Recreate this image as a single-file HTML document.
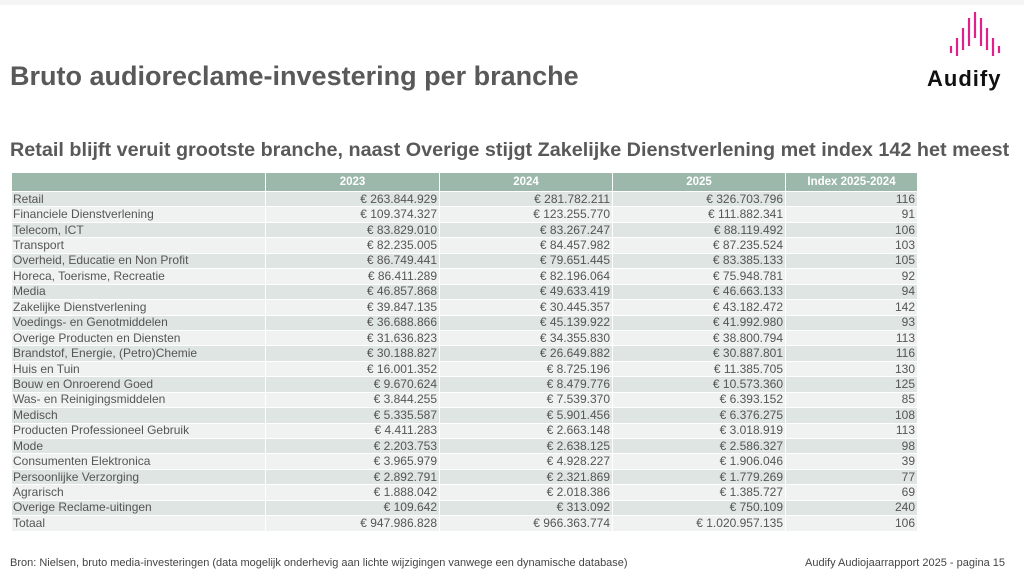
<!DOCTYPE html>
<html><head><meta charset="utf-8"><style>
*{margin:0;padding:0;box-sizing:border-box}
body{width:1024px;height:577px;background:#fff;font-family:"Liberation Sans",Arial,sans-serif;position:relative;overflow:hidden;color:#555}
.t{position:absolute;white-space:nowrap}
table{position:absolute;left:11px;top:172px;border-collapse:collapse;font-size:12px;color:#555}
td,th{border:1.5px solid #fff;padding:0 2px;height:15.45px;line-height:13px}
th{background:#9bb8aa;color:#fff;font-weight:bold;height:19px;text-align:center;font-size:11.5px}
td{text-align:right}
td:first-child{text-align:left;padding-left:1px}
tr:nth-child(even) td{background:#dfe5e2}
tr:nth-child(odd) td{background:#eff2f1}
</style></head><body>
<div style="position:absolute;left:0;top:0;width:1024px;height:5px;background:#f5f5f5"></div>
<div class="t" style="left:10px;top:61px;font-size:27px;font-weight:bold;color:#595959">Bruto audioreclame-investering per branche</div>
<div class="t" style="left:10px;top:139px;font-size:19.8px;font-weight:bold;color:#595959">Retail blijft veruit grootste branche, naast Overige stijgt Zakelijke Dienstverlening met index 142 het meest</div>
<svg style="position:absolute;left:945px;top:8px" width="60" height="52">
<g stroke="#e0218a" stroke-width="2.2">
<line x1="6" y1="38" x2="6" y2="45"/><line x1="12" y1="30" x2="12" y2="48"/><line x1="18" y1="20" x2="18" y2="42"/><line x1="24" y1="10" x2="24" y2="38"/><line x1="30" y1="4" x2="30" y2="30"/><line x1="36" y1="10" x2="36" y2="38"/><line x1="42" y1="20" x2="42" y2="42"/><line x1="48" y1="30" x2="48" y2="48"/><line x1="54" y1="38" x2="54" y2="45"/>
</g></svg>
<div class="t" style="left:927px;top:66px;font-size:22px;font-weight:bold;color:#111;letter-spacing:1px">Audify</div>
<table>
<colgroup><col style="width:254px"><col style="width:174px"><col style="width:173px"><col style="width:173px"><col style="width:132px"></colgroup>
<tr><th></th><th>2023</th><th>2024</th><th>2025</th><th>Index 2025-2024</th></tr>
<tr><td>Retail</td><td>€ 263.844.929</td><td>€ 281.782.211</td><td>€ 326.703.796</td><td>116</td></tr>
<tr><td>Financiele Dienstverlening</td><td>€ 109.374.327</td><td>€ 123.255.770</td><td>€ 111.882.341</td><td>91</td></tr>
<tr><td>Telecom, ICT</td><td>€ 83.829.010</td><td>€ 83.267.247</td><td>€ 88.119.492</td><td>106</td></tr>
<tr><td>Transport</td><td>€ 82.235.005</td><td>€ 84.457.982</td><td>€ 87.235.524</td><td>103</td></tr>
<tr><td>Overheid, Educatie en Non Profit</td><td>€ 86.749.441</td><td>€ 79.651.445</td><td>€ 83.385.133</td><td>105</td></tr>
<tr><td>Horeca, Toerisme, Recreatie</td><td>€ 86.411.289</td><td>€ 82.196.064</td><td>€ 75.948.781</td><td>92</td></tr>
<tr><td>Media</td><td>€ 46.857.868</td><td>€ 49.633.419</td><td>€ 46.663.133</td><td>94</td></tr>
<tr><td>Zakelijke Dienstverlening</td><td>€ 39.847.135</td><td>€ 30.445.357</td><td>€ 43.182.472</td><td>142</td></tr>
<tr><td>Voedings- en Genotmiddelen</td><td>€ 36.688.866</td><td>€ 45.139.922</td><td>€ 41.992.980</td><td>93</td></tr>
<tr><td>Overige Producten en Diensten</td><td>€ 31.636.823</td><td>€ 34.355.830</td><td>€ 38.800.794</td><td>113</td></tr>
<tr><td>Brandstof, Energie, (Petro)Chemie</td><td>€ 30.188.827</td><td>€ 26.649.882</td><td>€ 30.887.801</td><td>116</td></tr>
<tr><td>Huis en Tuin</td><td>€ 16.001.352</td><td>€ 8.725.196</td><td>€ 11.385.705</td><td>130</td></tr>
<tr><td>Bouw en Onroerend Goed</td><td>€ 9.670.624</td><td>€ 8.479.776</td><td>€ 10.573.360</td><td>125</td></tr>
<tr><td>Was- en Reinigingsmiddelen</td><td>€ 3.844.255</td><td>€ 7.539.370</td><td>€ 6.393.152</td><td>85</td></tr>
<tr><td>Medisch</td><td>€ 5.335.587</td><td>€ 5.901.456</td><td>€ 6.376.275</td><td>108</td></tr>
<tr><td>Producten Professioneel Gebruik</td><td>€ 4.411.283</td><td>€ 2.663.148</td><td>€ 3.018.919</td><td>113</td></tr>
<tr><td>Mode</td><td>€ 2.203.753</td><td>€ 2.638.125</td><td>€ 2.586.327</td><td>98</td></tr>
<tr><td>Consumenten Elektronica</td><td>€ 3.965.979</td><td>€ 4.928.227</td><td>€ 1.906.046</td><td>39</td></tr>
<tr><td>Persoonlijke Verzorging</td><td>€ 2.892.791</td><td>€ 2.321.869</td><td>€ 1.779.269</td><td>77</td></tr>
<tr><td>Agrarisch</td><td>€ 1.888.042</td><td>€ 2.018.386</td><td>€ 1.385.727</td><td>69</td></tr>
<tr><td>Overige Reclame-uitingen</td><td>€ 109.642</td><td>€ 313.092</td><td>€ 750.109</td><td>240</td></tr>
<tr><td>Totaal</td><td>€ 947.986.828</td><td>€ 966.363.774</td><td>€ 1.020.957.135</td><td>106</td></tr>
</table>
<div class="t" style="left:10px;top:557px;font-size:11px;color:#444">Bron: Nielsen, bruto media-investeringen (data mogelijk onderhevig aan lichte wijzigingen vanwege een dynamische database)</div>
<div class="t" style="left:805px;top:557px;font-size:11px;color:#444">Audify Audiojaarrapport 2025 - pagina 15</div>
</body></html>
